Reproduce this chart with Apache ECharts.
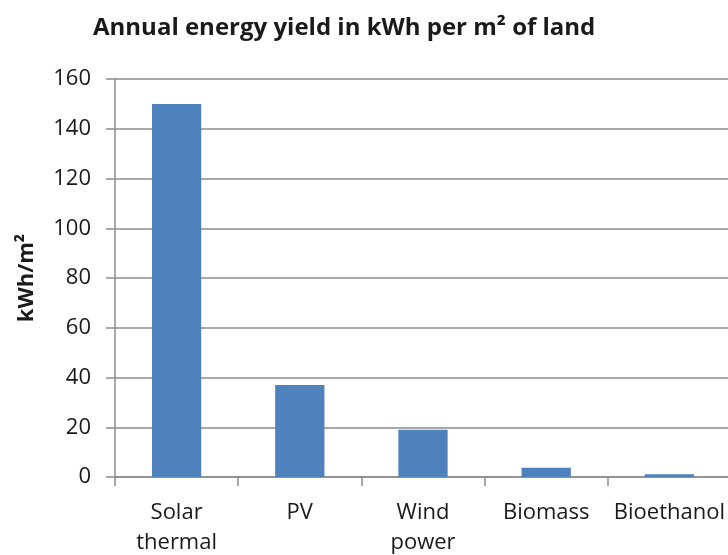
<!DOCTYPE html>
<html>
<head>
<meta charset="utf-8">
<script src="https://cdn.jsdelivr.net/npm/echarts@6/dist/echarts.min.js"></script>
<style>
    html, body { margin: 0; padding: 0; background: #fff; }
    #chart { width: 728px; height: 555px; }
</style>
</head>
<body>
<div id="chart"></div>
<script>
// data
var categories = ['Solar\nthermal', 'PV', 'Wind\npower', 'Biomass', 'Bioethanol']
var yieldValues = [150, 37, 19, 3.7, 1.1]
var yTicks = { min: 0, max: 160, interval: 20 }

var font = 'Open Sans'
var myChart = echarts.init(document.getElementById('chart'))
myChart.setOption({
    animation: false,
    title: {
        text: 'Annual energy yield in kWh per m² of land',
        left: 88,
        top: 11,
        textStyle: {
            fontFamily: font,
            fontWeight: 'bold',
            fontSize: 24,
            color: '#1a1a1a'
        }
    },
    grid: {
        left: 115,
        right: -3,
        top: 79,
        bottom: 78,
        outerBoundsMode: 'none'
    },
    xAxis: {
        type: 'category',
        data: categories,
        axisLine: {
            lineStyle: { color: '#8c8c8c', width: 1.5 }
        },
        axisTick: {
            show: true,
            length: 9,
            lineStyle: { color: '#8c8c8c', width: 1.5 }
        },
        axisLabel: {
            interval: 0,
            margin: 21,
            fontFamily: font,
            fontSize: 22,
            lineHeight: 30,
            color: '#1a1a1a'
        }
    },
    yAxis: {
        type: 'value',
        min: yTicks.min,
        max: yTicks.max,
        interval: yTicks.interval,
        name: 'kWh/m²',
        nameLocation: 'middle',
        nameRotate: 90,
        nameGap: 77,
        nameTextStyle: {
            fontFamily: font,
            fontWeight: 'bold',
            fontSize: 22,
            color: '#1a1a1a'
        },
        axisLine: {
            show: true,
            lineStyle: { color: '#8c8c8c', width: 1.5 }
        },
        axisTick: {
            show: true,
            length: 9,
            lineStyle: { color: '#8c8c8c', width: 1.5 }
        },
        axisLabel: {
            margin: 24,
            fontFamily: font,
            fontSize: 22,
            color: '#1a1a1a'
        },
        splitLine: {
            lineStyle: { color: '#8c8c8c', width: 1.5 }
        }
    },
    series: [{
        type: 'bar',
        data: yieldValues,
        barWidth: '40%',
        itemStyle: {
            color: '#4f81bd'
        }
    }]
})
</script>
</body>
</html>
